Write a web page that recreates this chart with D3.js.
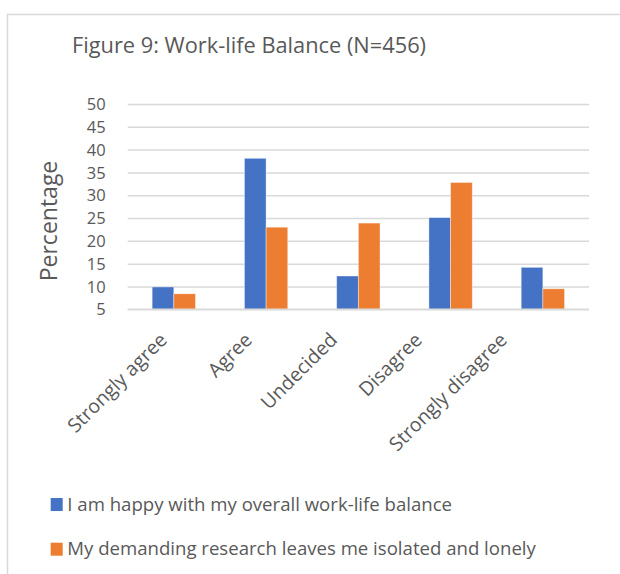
<!DOCTYPE html>
<html><head><meta charset="utf-8">
<script src="https://cdn.jsdelivr.net/npm/d3@7"></script>
<style>html,body{margin:0;padding:0;background:#fff;} svg{display:block;}</style>
</head><body>
<script>
const categories = ["Strongly agree", "Agree", "Undecided", "Disagree", "Strongly disagree"];
const seriesNames = ["I am happy with my overall work-life balance", "My demanding research leaves me isolated and lonely"];
const happyValues = [9.9, 38.1, 12.3, 25.1, 14.2];
const isolatedValues = [8.4, 23.0, 23.9, 32.8, 9.5];
const yTicks = [5, 10, 15, 20, 25, 30, 35, 40, 45, 50];
const colors = ["#4472C4", "#ED7D31"];

const W = 620, H = 574;
const font = "'Open Sans', sans-serif";
const txt = "#595959";
const svg = d3.select("body").append("svg").attr("width", W).attr("height", H);

// frame
svg.append("path").attr("d", `M7.5,${H} V14.5 H${W}`).attr("fill","none").attr("stroke","#d9d9d9").attr("stroke-width",1.5);

const m = {left: 127.7, right: 589, top: 104, bottom: 309.3};
const x = d3.scaleBand().domain(categories).range([m.left, m.right]).paddingInner(0.53).paddingOuter(0.265);
const xs = d3.scaleBand().domain([0,1]).range([0, x.bandwidth()]);
const y = d3.scaleLinear().domain([5, 50]).range([m.bottom, m.top]);
// label anchor positions (rotated labels are packed slightly tighter than the bars)
const xl = d3.scalePoint().domain(categories).range([163, 503]);

// gridlines
const yAxis = d3.axisLeft(y).tickValues(yTicks).tickSize(-(m.right - m.left)).tickPadding(22);
const ga = svg.append("g").attr("transform", `translate(${m.left},0)`).call(yAxis);
ga.select(".domain").remove();
ga.selectAll(".tick line").attr("stroke", "#d9d9d9").attr("stroke-width", 1.5);
ga.selectAll(".tick text").attr("fill", txt).style("font-family", font).style("font-size", "16.5px").attr("dy", "0.34em");

// bars
const data = categories.map((c, i) => ({c, v: [happyValues[i], isolatedValues[i]]}));
const g = svg.append("g");
data.forEach(d => {
  d.v.forEach((v, j) => {
    g.append("rect")
      .attr("x", x(d.c) + xs(j))
      .attr("width", xs.bandwidth())
      .attr("y", y(v))
      .attr("height", y(5) - y(v))
      .attr("fill", colors[j])
      .attr("stroke", "#ffffff").attr("stroke-opacity", 0.5).attr("stroke-width", 0.8);
  });
});

// x axis line
svg.append("line").attr("x1", m.left).attr("x2", m.right).attr("y1", m.bottom).attr("y2", m.bottom)
  .attr("stroke", "#d9d9d9").attr("stroke-width", 1.5);
// x labels
const xa = d3.axisBottom(xl).tickSize(0).tickPadding(0);
const gx = svg.append("g").attr("transform", `translate(0,${m.bottom})`).call(xa);
gx.select(".domain").remove();
gx.selectAll(".tick text")
  .attr("fill", txt).style("font-family", font).style("font-size", "19.5px")
  .attr("text-anchor", "end")
  .attr("transform", "translate(0,27) rotate(-45)")
  .attr("dy", "0.35em").attr("y", 0).attr("dx", 0);

// y title
svg.append("text").attr("transform", "translate(57,221) rotate(-90)")
  .attr("text-anchor", "middle").attr("fill", txt)
  .style("font-family", font).style("font-size", "23px").text("Percentage");

// title
svg.append("text").attr("x", 249).attr("y", 53).attr("text-anchor", "middle")
  .attr("fill", txt).style("font-family", font).style("font-size", "21.8px")
  .text("Figure 9: Work-life Balance (N=456)");

// legend
const lg = svg.append("g");
seriesNames.forEach((s, i) => {
  const yy = 498 + i * 44.7;
  lg.append("rect").attr("x", 50.7).attr("y", yy).attr("width", 12).attr("height", 13).attr("fill", colors[i]);
  lg.append("text").attr("x", 67.3).attr("y", yy + 12.5).attr("fill", txt)
    .style("font-family", font).style("font-size", "18.6px").text(s);
});
</script>
</body></html>
